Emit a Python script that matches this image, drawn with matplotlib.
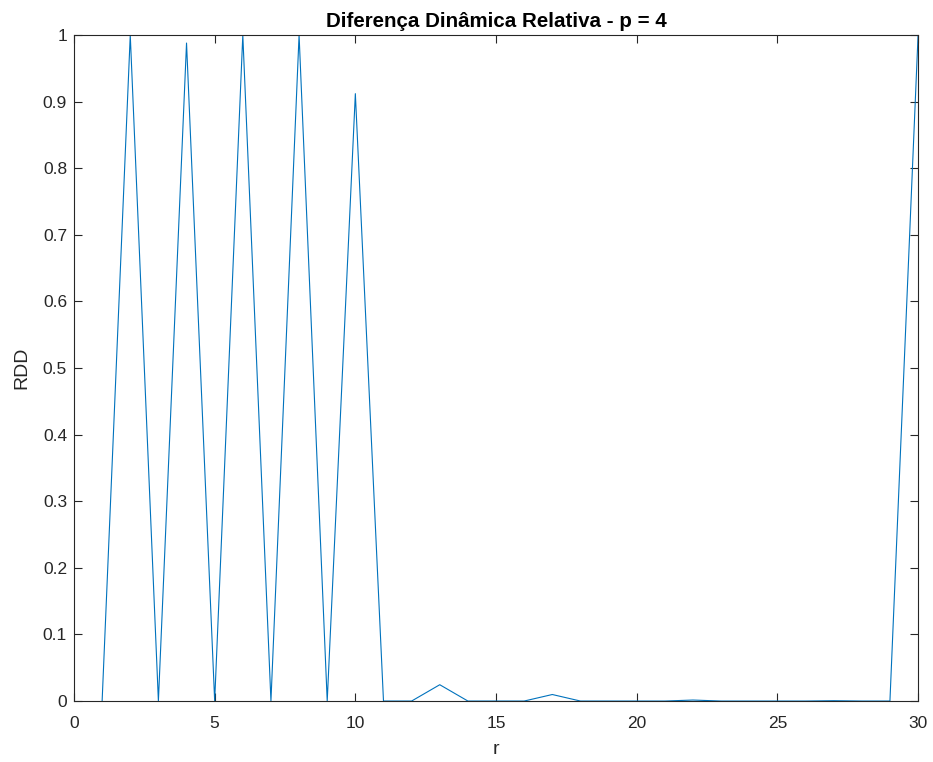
import matplotlib
matplotlib.use('Agg')
import matplotlib.pyplot as plt
from matplotlib.ticker import MultipleLocator

# RDD per r
r = list(range(1, 31))
rdd = [0, 1.0, 0, 0.988, 0, 1.0, 0, 1.0, 0, 0.912,
       0, 0, 0.0245, 0, 0, 0, 0.0098, 0, 0, 0,
       0, 0.0015, 0, 0, 0, 0, 0.0005, 0, 0, 1.0]

plt.rcParams['font.family'] = ['Liberation Sans', 'DejaVu Sans']

fig = plt.figure(figsize=(9.33, 7.62), dpi=100)
ax = fig.add_axes([0.0793, 0.080, 0.9047, 0.874])

ax.plot(r, rdd, color='#0072BD', linewidth=0.8)

ax.set_xlim(0, 30)
ax.set_ylim(0, 1)
ax.xaxis.set_major_locator(MultipleLocator(5))
ax.yaxis.set_major_locator(MultipleLocator(0.1))
ax.yaxis.set_major_formatter(plt.FuncFormatter(lambda v, p: f'{v:g}'))
ax.tick_params(direction='in', top=True, right=True, length=6, width=0.8,
               color='#262626', labelcolor='#262626', labelsize=12.5)
ax.tick_params(axis='x', pad=11)
ax.tick_params(axis='y', pad=5)
for s in ax.spines.values():
    s.set_color('#262626')
    s.set_linewidth(0.8)

ax.set_xlabel('r', fontsize=14, color='#262626', labelpad=7)
ax.set_ylabel('RDD', fontsize=14, color='#262626', labelpad=9)
ax.set_title('Diferença Dinâmica Relativa - p = 4', fontsize=14.8,
             fontweight='bold', pad=6)

fig.savefig('out.png', dpi=100)
